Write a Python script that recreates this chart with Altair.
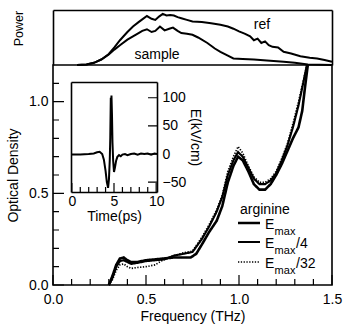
import altair as alt
import pandas as pd

# ---------------- data ----------------
series_names = ["Emax", "Emax/4", "Emax/32"]

freq_emax = [0.30, 0.32, 0.34, 0.36, 0.38, 0.40, 0.42, 0.45, 0.50, 0.55, 0.60, 0.65, 0.70, 0.74,
             0.77, 0.80, 0.84, 0.88, 0.91, 0.94, 0.97, 0.995, 1.02, 1.05, 1.08, 1.11, 1.14, 1.17,
             1.20, 1.23, 1.26, 1.29, 1.32, 1.34, 1.355, 1.37]
od_emax = [0.00, 0.05, 0.11, 0.145, 0.15, 0.135, 0.125, 0.125, 0.135, 0.14, 0.145, 0.15, 0.15, 0.15,
           0.17, 0.22, 0.29, 0.35, 0.43, 0.56, 0.65, 0.70, 0.68, 0.62, 0.55, 0.52, 0.52, 0.55,
           0.60, 0.66, 0.73, 0.80, 0.86, 0.95, 1.08, 1.20]

freq_emax4 = [0.30, 0.32, 0.34, 0.36, 0.38, 0.40, 0.42, 0.45, 0.50, 0.55, 0.60, 0.65, 0.70, 0.75,
              0.80, 0.84, 0.88, 0.91, 0.94, 0.97, 0.995, 1.02, 1.05, 1.08, 1.11, 1.14, 1.17, 1.20,
              1.23, 1.26, 1.29, 1.32, 1.345, 1.365]
od_emax4 = [0.00, 0.04, 0.10, 0.13, 0.135, 0.125, 0.115, 0.12, 0.13, 0.135, 0.14, 0.16, 0.17, 0.18,
            0.25, 0.32, 0.40, 0.48, 0.60, 0.68, 0.725, 0.70, 0.64, 0.58, 0.55, 0.55, 0.57, 0.61,
            0.68, 0.76, 0.86, 0.98, 1.10, 1.20]

freq_emax32 = [0.30, 0.32, 0.34, 0.36, 0.38, 0.40, 0.42, 0.45, 0.50, 0.55, 0.58, 0.62, 0.65, 0.70,
               0.75, 0.80, 0.84, 0.88, 0.91, 0.94, 0.97, 0.995, 1.02, 1.05, 1.08, 1.11, 1.14, 1.17,
               1.20, 1.23, 1.26, 1.29, 1.32, 1.345, 1.365]
od_emax32 = [0.00, 0.03, 0.08, 0.11, 0.115, 0.10, 0.09, 0.095, 0.10, 0.11, 0.13, 0.15, 0.16, 0.175,
             0.185, 0.26, 0.33, 0.41, 0.49, 0.62, 0.70, 0.755, 0.72, 0.65, 0.59, 0.56, 0.56, 0.58,
             0.62, 0.69, 0.77, 0.88, 1.00, 1.11, 1.20]

freq_ref = [0.13, 0.18, 0.22, 0.26, 0.30, 0.33, 0.36, 0.40, 0.43, 0.46, 0.48, 0.505, 0.53, 0.55,
            0.57, 0.59, 0.61, 0.63, 0.65, 0.67, 0.69, 0.72, 0.75, 0.80, 0.85, 0.90, 0.94, 0.97,
            1.00, 1.03, 1.06, 1.08, 1.10, 1.12, 1.14, 1.16, 1.18, 1.21, 1.24, 1.28, 1.33, 1.38,
            1.42, 1.46, 1.50]
power_ref = [0.0, 0.01, 0.04, 0.10, 0.20, 0.32, 0.45, 0.60, 0.70, 0.78, 0.83, 0.89, 0.84, 0.82,
             0.88, 0.93, 0.90, 0.91, 0.90, 0.87, 0.85, 0.82, 0.79, 0.78, 0.76, 0.73, 0.70, 0.66,
             0.61, 0.57, 0.52, 0.45, 0.48, 0.40, 0.43, 0.36, 0.33, 0.32, 0.24, 0.21, 0.16, 0.13,
             0.12, 0.09, 0.06]

freq_sample = [0.13, 0.18, 0.22, 0.26, 0.30, 0.33, 0.36, 0.40, 0.43, 0.46, 0.48, 0.505, 0.53, 0.55,
               0.575, 0.60, 0.625, 0.645, 0.67, 0.69, 0.72, 0.75, 0.78, 0.83, 0.87, 0.90, 0.94,
               0.97, 1.02, 1.08, 1.15, 1.24, 1.30, 1.37, 1.50]
power_sample = [0.0, 0.01, 0.04, 0.10, 0.19, 0.28, 0.36, 0.46, 0.52, 0.58, 0.62, 0.65, 0.60, 0.62,
                0.70, 0.63, 0.66, 0.68, 0.62, 0.58, 0.57, 0.55, 0.50, 0.40, 0.30, 0.24, 0.17,
                0.12, 0.11, 0.10, 0.08, 0.06, 0.04, 0.01, 0.0]

time_ps = [0.0, 1.0, 2.0, 2.6, 3.0, 3.3, 3.6, 3.8, 4.0, 4.15, 4.3, 4.4, 4.5, 4.56, 4.62, 4.66,
           4.70, 4.76, 4.82, 4.9, 5.0, 5.1, 5.25, 5.4, 5.6, 5.8, 6.0, 6.3, 6.6, 7.0, 7.4, 7.8,
           8.2, 8.6, 9.0, 9.4, 9.8, 10.1]
e_field = [-1, -1, 0, 1, 3, 4, 0, -10, -30, -50, -60, -45, -10, 30, 100, 80, 104, 70, 20, -12,
           -32, -25, -12, -5, -2, -4, -1, 0, -2, 0, 1, -1, 1, 0, 1, -1, 1, 0]

# tick values
f_major = [0, 0.5, 1.0, 1.5]
f_minor = [0.1, 0.2, 0.3, 0.4, 0.6, 0.7, 0.8, 0.9, 1.1, 1.2, 1.3, 1.4]
od_major = [0, 0.5, 1.0]
od_minor = [0.1, 0.2, 0.3, 0.4, 0.6, 0.7, 0.8, 0.9, 1.1]
t_major = [0, 5, 10]
t_minor = [1, 2, 3, 4, 6, 7, 8, 9]
e_major = [-50, 0, 50, 100]

power_labels = ["ref", "sample"]
legend_title = "arginine"
legend_suffix = ["", "/4", "/32"]

# ---------------- layout constants ----------------
W, H, TOP_H = 279, 220, 55
FONT = "Liberation Sans"
FS = 14
F_DOM, OD_DOM = [0, 1.5], [0, 1.2]
T_DOM, E_DOM = [-0.1, 10.1], [-67.5, 128]
INSET_LEFT, INSET_TOP, INSET_BOTTOM, INSET_RIGHT = 18, 17, 127, 104
STYLE_NAMES = series_names + ["tick"]
STYLE_WIDTH = [2.6, 1.2, 1.7, 1.5]
STYLE_DASH = [[1, 0], [1, 0], [1.3, 1.5], [1, 0]]


def px_to_f(px):
    return (px - 53) / W * (F_DOM[1] - F_DOM[0])


def py_to_od(py):
    return (285 - py) / H * (OD_DOM[1] - OD_DOM[0])


# data units per pixel of every scale (for tick lengths)
F_PP = (F_DOM[1] - F_DOM[0]) / W
OD_PP = (OD_DOM[1] - OD_DOM[0]) / H
T_PP = (T_DOM[1] - T_DOM[0]) / (INSET_RIGHT - INSET_LEFT)
E_PP = (E_DOM[1] - E_DOM[0]) / (INSET_BOTTOM - INSET_TOP)

od_df = pd.concat([
    pd.DataFrame({"f": freq_emax, "od": od_emax, "series": series_names[0]}),
    pd.DataFrame({"f": freq_emax4, "od": od_emax4, "series": series_names[1]}),
    pd.DataFrame({"f": freq_emax32, "od": od_emax32, "series": series_names[2]}),
], ignore_index=True)

power_df = pd.concat([
    pd.DataFrame({"f": freq_ref, "p": power_ref, "curve": "ref"}),
    pd.DataFrame({"f": freq_sample, "p": power_sample, "curve": "sample"}),
], ignore_index=True)

inset_df = pd.DataFrame({"t": time_ps, "e": e_field})

power_lab_df = pd.DataFrame({"f": [px_to_f(262), px_to_f(157)], "p": [0.727, 0.18],
                             "text": power_labels})

row_py = [223, 242, 262]
row_od = [py_to_od(v) for v in row_py]
E_LEFT = 265
MAX_LEFT = E_LEFT + 9.6
SUF_LEFT = MAX_LEFT + 21.5


def seg_rows(values, base, length, vertical):
    rows = []
    for v in values:
        if vertical:
            rows.append({"x": v, "x2": v, "y": base, "y2": base + length, "series": "tick"})
        else:
            rows.append({"x": base, "x2": base + length, "y": v, "y2": v, "series": "tick"})
    return rows


# legend sample lines + main-panel ticks, all drawn as rule segments in one layer
main_segments = pd.DataFrame(
    [{"x": px_to_f(238), "x2": px_to_f(260), "y": od, "y2": od, "series": s}
     for od, s in zip(row_od, series_names)]
    + seg_rows(f_major, OD_DOM[0], 10 * OD_PP, True)
    + seg_rows(f_minor, OD_DOM[0], 6 * OD_PP, True)
    + seg_rows(od_major, F_DOM[0], 11 * F_PP, False)
    + seg_rows(od_minor, F_DOM[0], 6 * F_PP, False)
)
inset_segments = pd.DataFrame(
    seg_rows(t_major, E_DOM[0], 9 * E_PP, True)
    + seg_rows(t_minor, E_DOM[0], 5 * E_PP, True)
    + seg_rows(e_major, T_DOM[1], -9 * T_PP, False)
)

leg_big = pd.DataFrame({
    "f": [px_to_f(240)] + [px_to_f(E_LEFT)] * 3 + [px_to_f(SUF_LEFT)] * 2,
    "od": [py_to_od(208)] + row_od + row_od[1:],
    "text": [legend_title, "E", "E", "E"] + legend_suffix[1:],
})
leg_small = pd.DataFrame({"f": [px_to_f(MAX_LEFT)] * 3, "od": row_od, "text": ["max"] * 3})


def sc(domain, rng=None):
    if rng is None:
        return alt.Scale(domain=domain, nice=False, zero=False)
    return alt.Scale(domain=domain, range=rng, nice=False, zero=False)


F_SCALE = sc(F_DOM)
OD_SCALE = sc(OD_DOM)
P_SCALE = sc([0, 1], [0, -TOP_H])
T_SCALE = sc(T_DOM, [INSET_LEFT, INSET_RIGHT])
E_SCALE = sc(E_DOM, [INSET_BOTTOM, INSET_TOP])


def ax(**kw):
    base = dict(grid=False, labels=False, ticks=False, domain=False, title=None,
                labelFlush=False, labelOverlap=False)
    base.update(kw)
    return alt.Axis(**base)


def sw():
    return alt.StrokeWidth("series:N", scale=alt.Scale(domain=STYLE_NAMES, range=STYLE_WIDTH),
                           legend=None)


def sd():
    return alt.StrokeDash("series:N", scale=alt.Scale(domain=STYLE_NAMES, range=STYLE_DASH),
                          legend=None)


# optical density curves with main labelled axes
od_lines = alt.Chart(od_df).mark_line(color="black").encode(
    x=alt.X("f:Q", scale=F_SCALE,
            axis=ax(orient="bottom", labels=True, values=f_major, format=".1f",
                    labelPadding=7, title="Frequency (THz)", titlePadding=3)),
    y=alt.Y("od:Q", scale=OD_SCALE,
            axis=ax(orient="left", labels=True, values=od_major, format=".1f",
                    labelPadding=5, title="Optical Density", titleX=-36, titleY=110,
                    titleAngle=270, titleAlign="center", titleBaseline="alphabetic")),
    detail="series:N",
    strokeWidth=sw(),
    strokeDash=sd(),
)

# power curves (top panel)
power_lines = alt.Chart(power_df).mark_line(color="black", strokeWidth=2).encode(
    x=alt.X("f:Q", scale=F_SCALE, axis=ax(orient="top", offset=TOP_H, domain=True)),
    y=alt.Y("p:Q", scale=P_SCALE,
            axis=ax(orient="left", domain=True, title="Power", titleX=-31, titleY=-37,
                    titleFontSize=12.5, titleAngle=270, titleAlign="center",
                    titleBaseline="alphabetic")),
    detail="curve:N",
)

# power labels + right frame of top panel
power_text = alt.Chart(power_lab_df).mark_text(font=FONT, fontSize=FS, color="black").encode(
    x=alt.X("f:Q", scale=F_SCALE, axis=None),
    y=alt.Y("p:Q", scale=P_SCALE, axis=ax(orient="right", domain=True)),
    text="text:N",
)

# inset waveform, bottom and right frame
inset_line = alt.Chart(inset_df).mark_line(color="black", strokeWidth=2).encode(
    x=alt.X("t:Q", scale=T_SCALE, axis=ax(orient="top", offset=-INSET_BOTTOM, domain=True)),
    y=alt.Y("e:Q", scale=E_SCALE, axis=ax(orient="left", offset=-INSET_RIGHT, domain=True)),
)

# inset labels
inset_labels = alt.Chart(inset_df).mark_point(opacity=0).encode(
    x=alt.X("t:Q", scale=T_SCALE, axis=ax(orient="bottom", offset=INSET_BOTTOM - H, labels=True,
                                           values=t_major, format="d", labelPadding=2,
                                           title="Time(ps)", titlePadding=1)),
    y=alt.Y("e:Q", scale=E_SCALE, axis=ax(orient="right", offset=INSET_RIGHT - W, labels=True,
                                           values=e_major, format="d", labelPadding=5,
                                           title="E(kV/cm)", titlePadding=2)),
)

# inset top and left frame
inset_frame = alt.Chart(inset_df).mark_point(opacity=0).encode(
    x=alt.X("t:Q", scale=T_SCALE, axis=ax(orient="top", offset=-INSET_TOP, domain=True)),
    y=alt.Y("e:Q", scale=E_SCALE, axis=ax(orient="left", offset=-INSET_LEFT, domain=True)),
)

# legend lines and main ticks
main_rules = alt.Chart(main_segments).mark_rule(color="black").encode(
    x=alt.X("x:Q", scale=F_SCALE, axis=None),
    x2="x2:Q",
    y=alt.Y("y:Q", scale=OD_SCALE, axis=None),
    y2="y2:Q",
    strokeWidth=sw(),
    strokeDash=sd(),
)

# inset ticks
inset_rules = alt.Chart(inset_segments).mark_rule(color="black").encode(
    x=alt.X("x:Q", scale=T_SCALE, axis=None),
    x2="x2:Q",
    y=alt.Y("y:Q", scale=E_SCALE, axis=None),
    y2="y2:Q",
    strokeWidth=sw(),
    strokeDash=sd(),
)

legend_big = alt.Chart(leg_big).mark_text(font=FONT, fontSize=FS, color="black", align="left",
                                          baseline="middle", dy=2).encode(
    x=alt.X("f:Q", scale=F_SCALE, axis=None),
    y=alt.Y("od:Q", scale=OD_SCALE, axis=None),
    text="text:N",
)
legend_small = alt.Chart(leg_small).mark_text(font=FONT, fontSize=11, color="black", align="left",
                                              baseline="middle", dy=9).encode(
    x=alt.X("f:Q", scale=F_SCALE, axis=None),
    y=alt.Y("od:Q", scale=OD_SCALE, axis=None),
    text="text:N",
)

chart = alt.layer(
    od_lines, power_lines, power_text,
    inset_line, inset_labels, inset_frame,
    main_rules, inset_rules, legend_big, legend_small,
).resolve_scale(
    x="independent", y="independent", strokeWidth="independent", strokeDash="independent"
).properties(
    width=W, height=H,
    autosize=alt.AutoSizeParams(type="none"),
    padding={"left": 53, "top": 65, "right": 18, "bottom": 45},
    background="white",
).configure_view(
    stroke="black", strokeWidth=1.6
).configure_axis(
    labelFont=FONT, titleFont=FONT, labelFontSize=FS, titleFontSize=FS,
    labelColor="black", titleColor="black", tickColor="black", domainColor="black",
    titleFontWeight="normal", domainWidth=1.6, tickWidth=1.3,
)

chart.save("out.html", embed_options={"renderer": "svg", "actions": False})
